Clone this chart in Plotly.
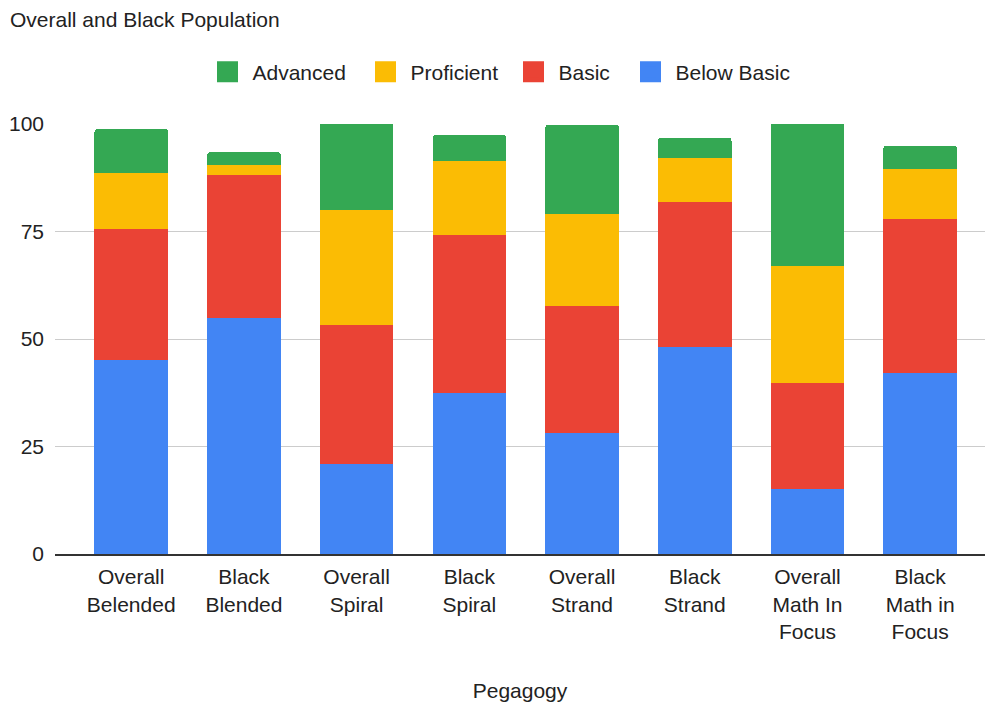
import plotly.graph_objects as go

categories = ["Overall<br>Belended", "Black<br>Blended", "Overall<br>Spiral", "Black<br>Spiral",
              "Overall<br>Strand", "Black<br>Strand", "Overall<br>Math In<br>Focus", "Black<br>Math in<br>Focus"]
below_basic = [45.1, 54.8, 20.9, 37.4, 28.2, 48.1, 15.1, 42.1]
basic = [30.5, 33.3, 32.4, 36.8, 29.4, 33.8, 24.7, 35.9]
proficient = [13.0, 2.4, 26.6, 17.3, 21.4, 10.1, 27.1, 11.6]
advanced = [10.2, 2.9, 20.5, 5.9, 20.8, 4.8, 33.5, 5.3]

series = [
    ("Below Basic", below_basic, "#4285F4"),
    ("Basic", basic, "#EA4335"),
    ("Proficient", proficient, "#FBBC04"),
    ("Advanced", advanced, "#34A853"),
]

FONT = "Liberation Sans, Arial, sans-serif"
TXT = "#222222"
fig = go.Figure()
for name, vals, color in series:
    fig.add_trace(go.Bar(x=categories, y=vals, name=name, marker=dict(color=color, line=dict(width=0)),
                         showlegend=False))

legend_ids = ["legend", "legend2", "legend3", "legend4"]
legend_px = [202.5, 360.5, 508.5, 625.5]
for (name, vals, color), lid in zip(reversed(series), legend_ids):
    fig.add_trace(go.Scatter(x=[None], y=[None], mode="markers", name=name, legend=lid,
                             marker=dict(symbol="square", size=16, color=color,
                                         line=dict(color=color, width=5))))

legend_layout = {}
for lid, px in zip(legend_ids, legend_px):
    legend_layout[lid] = dict(orientation="h", x=(px - 55) / 930, xanchor="left",
                              y=1 + (124 - 72) / 430, yanchor="middle",
                              font=dict(size=21, color=TXT, family=FONT), itemwidth=40,
                              bgcolor="rgba(0,0,0,0)")

fig.update_layout(
    width=985, height=704,
    barmode="stack", bargap=0.348, barcornerradius=3,
    plot_bgcolor="white", paper_bgcolor="white",
    margin=dict(l=55, r=0, t=124, b=150),
    font=dict(family=FONT, size=21, color=TXT),
    title=dict(text="Overall and Black Population", x=10/985, xanchor="left", xref="container",
               y=1 - 20/704, yanchor="middle", yref="container",
               font=dict(size=21, color=TXT, family=FONT)),
    xaxis=dict(range=[-0.676, 7.575], showline=True, linecolor="#333333", linewidth=2,
               tickfont=dict(size=21, color=TXT), ticks="", ticklabelstandoff=3,
               title=dict(text="Pegagogy", standoff=42, font=dict(size=21, color=TXT))),
    yaxis=dict(range=[0, 100], tickvals=[0, 25, 50, 75, 100], gridcolor="#cccccc", gridwidth=1,
               zeroline=False, showline=False, ticklabelstandoff=10,
               tickfont=dict(size=21, color=TXT)),
    **legend_layout,
)

fig.write_html("out.html")
